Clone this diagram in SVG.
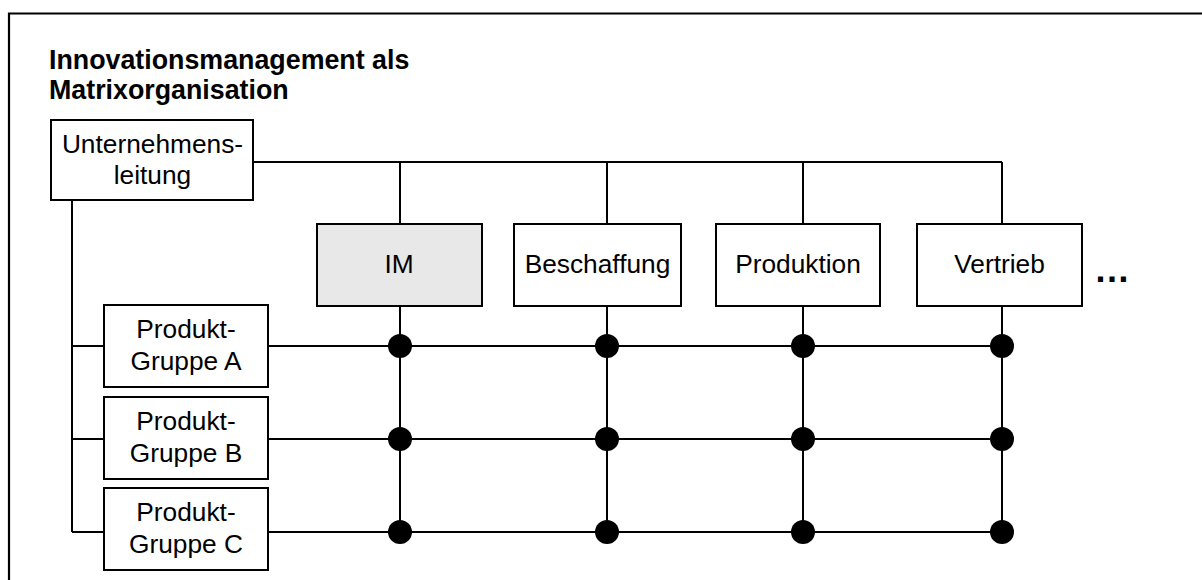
<svg xmlns="http://www.w3.org/2000/svg" width="1202" height="580" viewBox="0 0 1202 580">
  <style>
    .box { fill: #ffffff; stroke: #000000; stroke-width: 2; }
    .box.hl { fill: #e8e8e8; }
    .lbl { font-family: "Liberation Sans", Arial, sans-serif; font-size: 26.3px; fill: #000000; text-anchor: middle; }
    .title { font-family: "Liberation Sans", Arial, sans-serif; font-size: 26.8px; font-weight: bold; fill: #000000; }
    .wire { fill: none; stroke: #000000; stroke-width: 2; }
    .dot { fill: #000000; }
  </style>
  <defs>
    <circle id="node-dot" r="12" class="dot"/>
  </defs>

  <rect width="1202" height="580" fill="#ffffff"/>

  <!-- frame -->
  <path d="M9 580 V13.5 H1202" fill="none" stroke="#000000" stroke-width="2.2"/>

  <!-- title -->
  <text class="title" x="49" y="69">Innovationsmanagement als</text>
  <text class="title" x="49" y="99">Matrixorganisation</text>

  <!-- connectors -->
  <g id="connectors">
    <!-- top bus to functional units -->
    <path class="wire" d="M253 162 H1002"/>
    <path class="wire" d="M400 162 V224 M607 162 V224 M803 162 V224 M1002 162 V224"/>
    <!-- left bus to product groups -->
    <path class="wire" d="M72 200 V532"/>
    <path class="wire" d="M72 346 H104 M72 439 H104 M72 532 H104"/>
    <!-- matrix columns -->
    <path class="wire" d="M400 306 V532 M607 306 V532 M803 306 V532 M1002 306 V532"/>
    <!-- matrix rows -->
    <path class="wire" d="M268 346 H1002 M268 439 H1002 M268 532 H1002"/>
    <!-- intersection nodes -->
    <use href="#node-dot" x="400" y="346"/>
    <use href="#node-dot" x="607" y="346"/>
    <use href="#node-dot" x="803" y="346"/>
    <use href="#node-dot" x="1002" y="346"/>
    <use href="#node-dot" x="400" y="439"/>
    <use href="#node-dot" x="607" y="439"/>
    <use href="#node-dot" x="803" y="439"/>
    <use href="#node-dot" x="1002" y="439"/>
    <use href="#node-dot" x="400" y="532"/>
    <use href="#node-dot" x="607" y="532"/>
    <use href="#node-dot" x="803" y="532"/>
    <use href="#node-dot" x="1002" y="532"/>
  </g>

  <!-- management -->
  <g id="unternehmensleitung">
    <rect class="box" x="51" y="120" width="202" height="80"/>
    <text class="lbl" x="152.5" y="153">Unternehmens-</text>
    <text class="lbl" x="152.5" y="183.5">leitung</text>
  </g>

  <!-- functional units -->
  <g id="im">
    <rect class="box hl" x="317" y="224" width="165" height="82"/>
    <text class="lbl" x="399" y="273">IM</text>
  </g>
  <g id="beschaffung">
    <rect class="box" x="514" y="224" width="167" height="82"/>
    <text class="lbl" x="597.5" y="273">Beschaffung</text>
  </g>
  <g id="produktion">
    <rect class="box" x="716" y="224" width="164" height="82"/>
    <text class="lbl" x="798" y="273">Produktion</text>
  </g>
  <g id="vertrieb">
    <rect class="box" x="917" y="224" width="165" height="82"/>
    <text class="lbl" x="999.5" y="273">Vertrieb</text>
  </g>
  <g id="weitere">
    <text class="title" x="1094" y="282" style="font-size:36px">…</text>
  </g>

  <!-- product groups -->
  <g id="produktgruppe-a">
    <rect class="box" x="104" y="305" width="164" height="82"/>
    <text class="lbl" x="186" y="337.5">Produkt-</text>
    <text class="lbl" x="186" y="369.5">Gruppe A</text>
  </g>
  <g id="produktgruppe-b">
    <rect class="box" x="104" y="397" width="164" height="82"/>
    <text class="lbl" x="186" y="429.5">Produkt-</text>
    <text class="lbl" x="186" y="461.5">Gruppe B</text>
  </g>
  <g id="produktgruppe-c">
    <rect class="box" x="104" y="488" width="164" height="82"/>
    <text class="lbl" x="186" y="520.5">Produkt-</text>
    <text class="lbl" x="186" y="552.5">Gruppe C</text>
  </g>
</svg>
